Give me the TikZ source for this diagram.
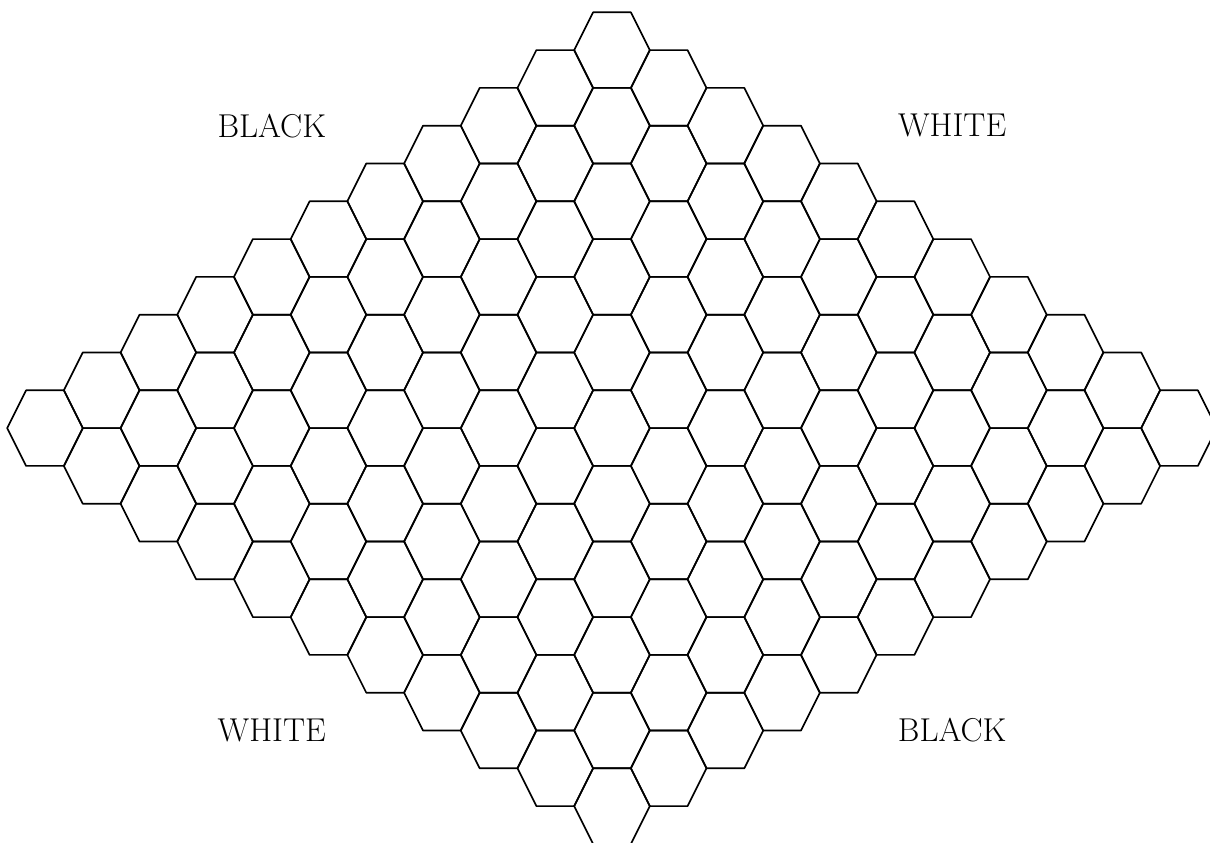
\documentclass[tikz,border=0pt]{standalone}
\begin{document}
\begin{tikzpicture}[
  hexline/.style={line width=1.25pt, line join=round},
  sidetext/.style={font=\Huge, inner sep=0pt}
]
\useasboundingbox (-16.19,1.325) rectangle (15.82,-20.96);
\clip (-16.19,1.325) rectangle (15.82,-20.96);
\foreach \i in {0,...,10}{
  \foreach \j in {0,...,10}{
    \draw[hexline, shift={({1.5*\j-1.5*\i},{-\i-\j})}]
      (1,0) -- (0.5,1) -- (-0.5,1) -- (-1,0) -- (-0.5,-1) -- (0.5,-1) -- cycle;
  }
}
\node[sidetext] (tl) at (-9,-2) {BLACK};
\node[sidetext] (tr) at (9,-2) {WHITE};
\node[sidetext] (bl) at (-9,-18) {WHITE};
\node[sidetext] (br) at (9,-18) {BLACK};
\end{tikzpicture}
\end{document}
